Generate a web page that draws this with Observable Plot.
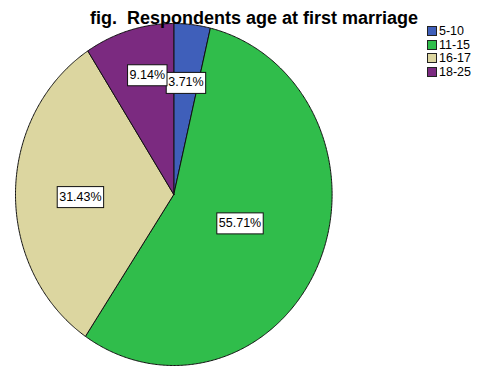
<!DOCTYPE html>
<html>
<head>
<meta charset="utf-8">
<script src="https://cdn.jsdelivr.net/npm/d3@7"></script>
<script src="https://cdn.jsdelivr.net/npm/@observablehq/plot@0.6"></script>
<style>
  html, body { margin: 0; padding: 0; background: #fff; }
  #wrap { position: relative; width: 481px; height: 372px; overflow: hidden; }
  #legend { position: absolute; left: 427px; top: 24px; }
  #legend .lg-swatch { height: 13.7px !important; padding: 0 !important; margin: 0 !important; font: 12.5px "Liberation Sans", Arial, sans-serif; color: #000; display: flex; align-items: center; }
  #legend .lg-swatch svg { border: 1px solid #222; margin-right: 2px !important; box-sizing: content-box; }
</style>
</head>
<body>
<div id="wrap"><div id="chart"></div><div id="legend"></div></div>
<script>
const title = "fig.\u00a0 Respondents age at first marriage";
const categories = ["5-10", "11-15", "16-17", "18-25"];
const percents = [3.71, 55.71, 31.43, 9.14];
const colors = ["#3f5fba", "#30bd4b", "#dcd6a0", "#7b2a80"];
const labelRadius = [0.66, 0.45, 0.59, 0.72];
const labelAngleShift = [0, -2, -1.7, 3];

const total = d3.sum(percents);
const slices = [];
let cum = 0;
percents.forEach((p, i) => {
  const a0 = cum / total * 2 * Math.PI;
  cum += p;
  const a1 = cum / total * 2 * Math.PI;
  const pts = [{x: 0, y: 0}];
  const n = Math.max(2, Math.ceil((a1 - a0) / (Math.PI / 360)));
  for (let k = 0; k <= n; k++) {
    const a = a0 + (a1 - a0) * k / n;
    pts.push({x: Math.sin(a), y: Math.cos(a)});
  }
  pts.push({x: 0, y: 0});
  const mid = (a0 + a1) / 2 + labelAngleShift[i] * Math.PI / 180;
  slices.push({cat: categories[i], pct: p, pts, lx: Math.sin(mid) * labelRadius[i], ly: Math.cos(mid) * labelRadius[i]});
});

const marks = slices.map((s, i) => Plot.line(s.pts, {
  x: "x", y: "y", fill: colors[i], stroke: "#111", strokeWidth: 1, curve: "linear"
}));
marks.push(Plot.text(slices, {
  x: "lx", y: "ly", text: d => d.pct.toFixed(2) + "%", fontSize: 12.5, fill: "#000"
}));
marks.push(Plot.text([title], {
  text: d => d, frameAnchor: "top", dx: 13, dy: 11, fontSize: 18, fontWeight: "bold", fill: "#000"
}));

const chart = Plot.plot({
  width: 481, height: 372,
  margin: 0,
  x: {type: "linear", domain: [-1, 1], range: [15, 331.6], axis: null},
  y: {type: "linear", domain: [-1, 1], range: [365, 23], axis: null},
  style: {fontFamily: '"Liberation Sans", Arial, sans-serif', background: "#fff", overflow: "visible"},
  marks
});
document.getElementById("chart").appendChild(chart);

// boxes around percentage labels
const svgNS = "http://www.w3.org/2000/svg";
Array.from(chart.querySelectorAll("text"))
  .filter(t => /%$/.test(t.textContent.trim()))
  .forEach(t => {
    const b = t.getBBox();
    const r = document.createElementNS(svgNS, "rect");
    const px = 2, py = 3.5;
    r.setAttribute("x", b.x - px);
    r.setAttribute("y", b.y - py + 0.5);
    r.setAttribute("width", b.width + 2 * px);
    r.setAttribute("height", b.height + 2 * py);
    r.setAttribute("fill", "#fff");
    r.setAttribute("stroke", "#111");
    r.setAttribute("stroke-width", 1);
    const tr = t.getAttribute("transform");
    if (tr) r.setAttribute("transform", tr);
    t.parentNode.insertBefore(r, t);
  });

const legend = Plot.legend({
  color: {type: "ordinal", domain: categories, range: colors},
  legend: "swatches", columns: 1, swatchSize: 8, className: "lg"
});
document.getElementById("legend").appendChild(legend);
</script>
</body>
</html>
